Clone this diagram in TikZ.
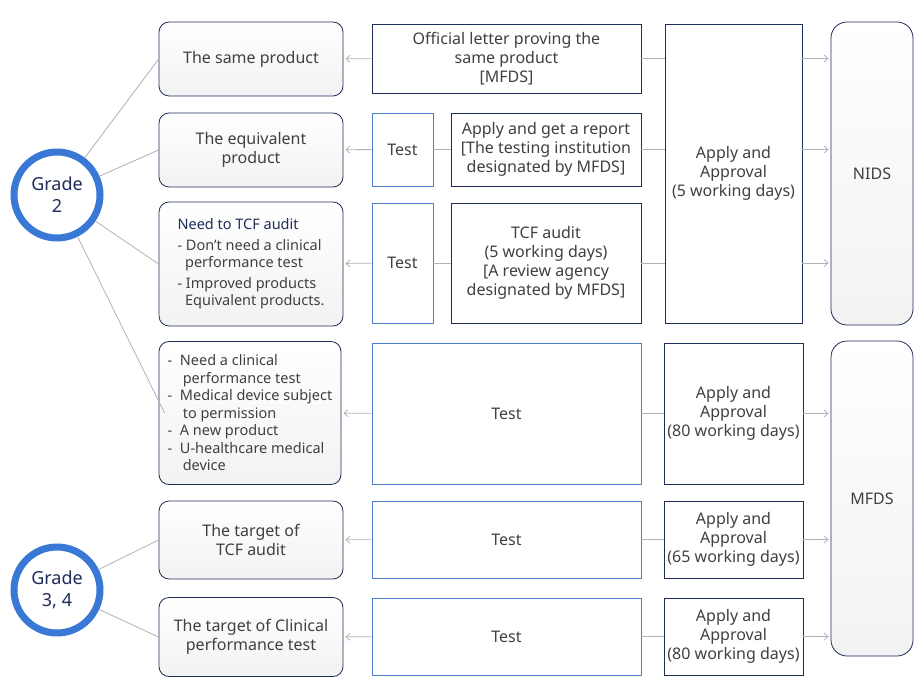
\documentclass[tikz,border=0pt]{standalone}
\usepackage{fontspec}
\setmainfont{Noto Sans}
\usetikzlibrary{arrows.meta}
\definecolor{navy}{HTML}{1f2d5a}
\definecolor{boxblue}{HTML}{4a7cc9}
\definecolor{ringblue}{HTML}{3a78d6}
\definecolor{txtgray}{HTML}{404040}
\tikzstyle{item}=[rounded corners=10pt, draw=navy, line width=0.8pt, top color=white, bottom color=gray!10, text=txtgray, align=center, inner sep=4pt]
\tikzstyle{testbox}=[draw=boxblue, line width=0.8pt, text=txtgray, align=center]
\tikzstyle{apply}=[draw=navy, line width=0.8pt, text=txtgray, align=center]
\tikzstyle{office}=[rounded corners=16pt, draw=navy, line width=0.8pt, top color=white, bottom color=gray!10, text=txtgray]
\tikzstyle{grade}=[circle, minimum size=86pt, draw=ringblue, line width=7pt, fill=white, text=navy, font=\fontsize{18}{22}\selectfont\bfseries, align=center]
\tikzstyle{link}=[gray!60, line width=0.8pt]
\tikzstyle{flow}=[gray!60, line width=0.8pt, -{Straight Barb[length=4pt,width=7pt]}, shorten >=2pt]

\begin{document}
\begin{tikzpicture}[x=1pt, y=-1pt, font=\fontsize{16}{19}\selectfont]
\useasboundingbox (0,0) rectangle (920,700);

\node [grade] (G2)  at (57,195) {Grade\\2};
\node [grade] (G34) at (57,590) {Grade\\3, 4};

\node [item, minimum width=184pt, minimum height=74pt]  (same)  at (251,59)  {The same product};
\node [item, minimum width=184pt, minimum height=74pt]  (equiv) at (251,150) {The equivalent\\product};
\node [item, minimum width=184pt, minimum height=124pt, align=left, font=\fontsize{14.5}{17.5}\selectfont] (need) at (251,264)
  {{\color{navy}Need to TCF audit}\\[3pt]- Don't need a clinical\\\ \ performance test\\[3pt]- Improved products\\\ \ Equivalent products.};
\node [item, minimum width=182pt, minimum height=143pt, align=left, font=\fontsize{14.5}{17.5}\selectfont] (clin) at (250,413)
  {-\ \ Need a clinical\\\ \ \ \ performance test\\-\ \ Medical device subject\\\ \ \ \ to permission\\-\ \ A new product\\-\ \ U-healthcare medical\\\ \ \ \ device};
\node [item, minimum width=184pt, minimum height=78pt]  (tcf)   at (251,540) {The target of\\TCF audit};
\node [item, minimum width=184pt, minimum height=79pt]  (cpt)   at (251,637) {The target of Clinical\\performance test};

\node [apply, minimum width=269pt, minimum height=69pt]  (letter) at (506.5,58.5) {Official letter proving the\\same product\\{[MFDS]}};
\node [testbox, minimum width=61pt,  minimum height=73pt]  (test2)  at (402.5,149.5) {Test};
\node [apply, minimum width=190pt, minimum height=73pt]  (report) at (546,149.5) {Apply and get a report\\{[The testing institution}\\designated by MFDS]};
\node [testbox, minimum width=61pt,  minimum height=120pt] (test3)  at (402.5,263) {Test};
\node [apply, minimum width=190pt, minimum height=120pt] (audit)  at (546,263) {TCF audit\\(5 working days)\\{[A review agency}\\designated by MFDS]};
\node [apply, minimum width=137pt, minimum height=299pt] (app1)   at (733.5,173.5) {Apply and\\Approval\\(5 working days)};
\node [office, minimum width=82pt, minimum height=303pt] (nids)   at (872,173.5) {NIDS};

\node [testbox, minimum width=269pt, minimum height=141pt] (test4) at (506.5,413.5) {Test};
\node [apply, minimum width=137pt, minimum height=141pt] (app4)  at (733.5,413.5) {Apply and\\Approval\\(80 working days)};
\node [testbox, minimum width=269pt, minimum height=77pt]  (test5) at (506.5,539.5) {Test};
\node [apply, minimum width=137pt, minimum height=77pt]  (app5)  at (733.5,539.5) {Apply and\\Approval\\(65 working days)};
\node [testbox, minimum width=269pt, minimum height=77pt]  (test6) at (506.5,636.5) {Test};
\node [apply, minimum width=137pt, minimum height=77pt]  (app6)  at (733.5,636.5) {Apply and\\Approval\\(80 working days)};
\node [office, minimum width=82pt, minimum height=315pt] (mfds)  at (872,498.5) {MFDS};

\draw [link] (G2) -- (same.west);
\draw [link] (G2) -- (equiv.west);
\draw [link] (G2) -- (need.west);
\draw [link] (G2) -- ([xshift=6pt]clin.west);
\draw [link] (G34) -- (tcf.west);
\draw [link] (G34) -- (cpt.west);

\draw [flow] (letter) -- (same);
\draw [flow] (test2) -- (equiv);
\draw [flow] (test3) -- (need);
\draw [flow] (test4) -- (clin);
\draw [flow] (test5) -- (tcf);
\draw [flow] (test6) -- (cpt);

\draw [link] (test2) -- (report);
\draw [link] (test3) -- (audit);
\draw [link] (letter.east) -- (app1.west |- letter);
\draw [link] (report.east) -- (app1.west |- report);
\draw [link] (audit.east) -- (app1.west |- audit);
\draw [link] (test4) -- (app4);
\draw [link] (test5) -- (app5);
\draw [link] (test6) -- (app6);

\draw [flow] (app1.east |- letter) -- (nids.west |- letter);
\draw [flow] (app1.east |- report) -- (nids.west |- report);
\draw [flow] (app1.east |- audit) -- (nids.west |- audit);
\draw [flow] (app4) -- (mfds.west |- app4);
\draw [flow] (app5) -- (mfds.west |- app5);
\draw [flow] (app6) -- (mfds.west |- app6);

\end{tikzpicture}
\end{document}
